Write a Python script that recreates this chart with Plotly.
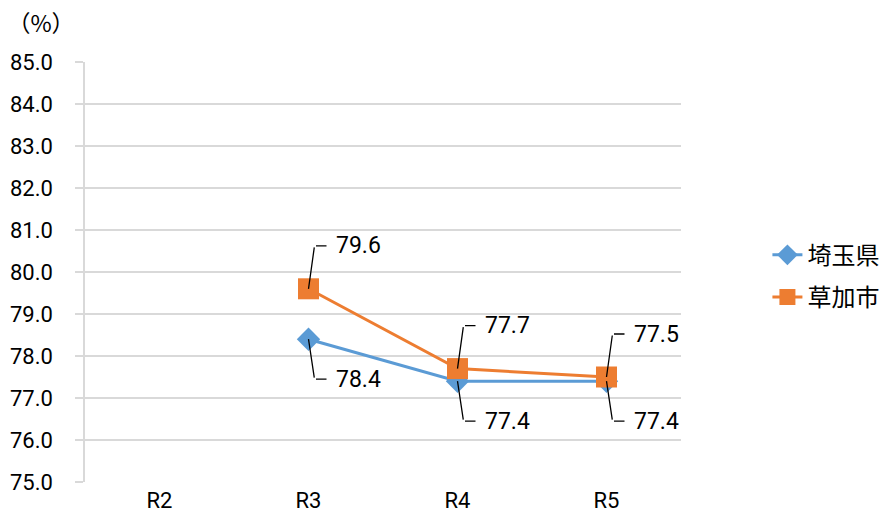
import plotly.graph_objects as go

# data
years = ["R2", "R3", "R4", "R5"]
saitama = [None, 78.4, 77.4, 77.4]
soka = [None, 79.6, 77.7, 77.5]

NUM_FONT = "Roboto, sans-serif"
CJK_FONT = "'Noto Sans CJK JP', sans-serif"
BLUE = "#5B9BD5"
ORANGE = "#ED7D31"
GRID = "#D9D9D9"

fig = go.Figure()
fig.add_trace(
    go.Scatter(
        x=years,
        y=saitama,
        name="埼玉県",
        mode="lines+markers",
        line=dict(color=BLUE, width=3),
        marker=dict(symbol="diamond", size=18, color=BLUE),
        legendgroup="a",
    )
)
fig.add_trace(
    go.Scatter(
        x=years,
        y=soka,
        name="草加市",
        mode="lines+markers",
        line=dict(color=ORANGE, width=3),
        marker=dict(symbol="square", size=21, color=ORANGE),
        legendgroup="b",
    )
)


def leader_label(fig, x, y, dx, dy, seg=12, gap=7):
    """Data label with an elbow leader line (dy in px, positive = down)."""
    line = dict(showarrow=True, arrowhead=0, arrowwidth=1.3, arrowcolor="black", text="")
    # diagonal from the point to the elbow
    fig.add_annotation(x=x, y=y, ax=dx, ay=dy, **line)
    # short horizontal piece
    fig.add_annotation(x=x, y=y, xshift=dx + seg, yshift=-dy, ax=-seg, ay=0, **line)
    fig.add_annotation(
        x=x,
        y=y,
        xshift=dx + seg + gap,
        yshift=-dy,
        text=f"{y:.1f}",
        showarrow=False,
        xanchor="left",
        yanchor="middle",
        font=dict(size=23, color="black", family=NUM_FONT),
    )


for cat, v in zip(years, soka):
    if v is not None:
        leader_label(fig, cat, v, 6, -43)
for cat, v in zip(years, saitama):
    if v is not None:
        leader_label(fig, cat, v, 6, 40)

# unit label, given a roomy box so nothing gets clipped
fig.add_annotation(
    text="（%）",
    xref="paper",
    yref="paper",
    x=-0.133,
    y=1.095,
    xanchor="left",
    yanchor="middle",
    width=66,
    height=32,
    align="center",
    valign="middle",
    showarrow=False,
    font=dict(size=23, color="black", family=CJK_FONT),
)

# the page body adds 8px around the plot div, so margins are shifted to suit
fig.update_layout(
    width=888,
    height=524,
    margin=dict(l=77, r=215, t=54, b=50),
    plot_bgcolor="white",
    paper_bgcolor="white",
    font=dict(family=NUM_FONT, size=22, color="black"),
    showlegend=True,
    legend=dict(
        x=1.145,
        y=0.49,
        xanchor="left",
        yanchor="middle",
        tracegroupgap=8,
        traceorder="grouped",
        font=dict(size=24, family=CJK_FONT),
    ),
    xaxis=dict(
        range=[-0.5, 3.5],
        showgrid=False,
        showline=False,
        ticks="",
        zeroline=False,
        ticklabelstandoff=3,
        automargin=False,
    ),
    yaxis=dict(
        range=[75, 85],
        dtick=1,
        tickformat=".1f",
        showgrid=True,
        gridcolor=GRID,
        gridwidth=1.5,
        showline=True,
        linecolor=GRID,
        linewidth=1.5,
        ticks="outside",
        ticklen=8,
        tickcolor=GRID,
        tickwidth=1.5,
        ticklabelstandoff=18,
        zeroline=False,
        automargin=False,
    ),
)

fig.write_html("out.html")
